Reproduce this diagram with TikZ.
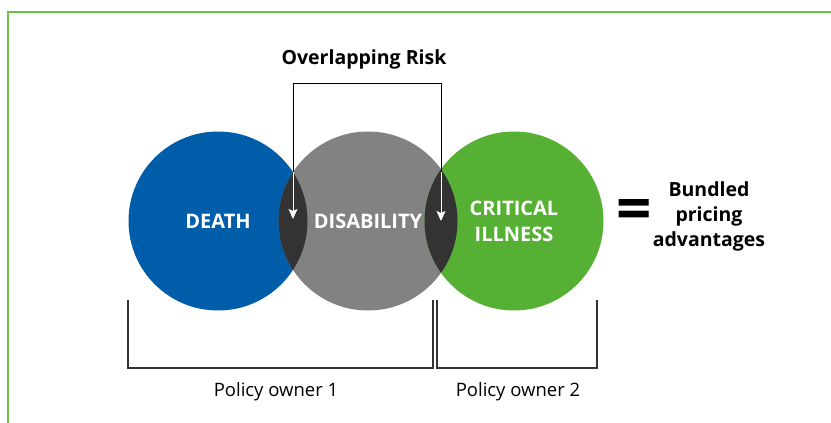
\documentclass[tikz,border=0pt]{standalone}
\usepackage{fontspec}
\setmainfont{Open Sans}
\usepackage{xcolor}
\usepackage{tikz}
\usetikzlibrary{positioning,arrows.meta}

\definecolor{deathblue}{HTML}{005DAA}
\definecolor{disgray}{HTML}{828282}
\definecolor{ciGreen}{HTML}{55B033}
\definecolor{lensdark}{HTML}{333333}
\definecolor{frameGreen}{HTML}{6CC24A}

\begin{document}
\begin{tikzpicture}[x=1pt, y=-1pt, font=\fontsize{18}{22}\selectfont,
	risk/.style={circle, minimum size=179pt, inner sep=0pt, text=white, font=\fontsize{20}{26}\selectfont\bfseries, align=center},
	brace/.style={draw=lensdark, line width=1.3pt},
	owner/.style={font=\fontsize{18.5}{22}\selectfont}]
		\useasboundingbox (0,0) rectangle (831,423);
		\draw[frameGreen, line width=1.5pt] (8,423) -- (8,12) -- (831,12);
		% the three circles
		\node[risk, fill=deathblue] (death) at (218,221) {};
		\node[risk, fill=disgray] (dis) at (368,221) {};
		\node[risk, fill=ciGreen] (ci) at (514,221) {};
		% overlaps
		\begin{scope}
			\clip (218,221) circle (89.5);
			\fill[lensdark] (368,221) circle (89.5);
		\end{scope}
		\begin{scope}
			\clip (368,221) circle (89.5);
			\fill[lensdark] (514,221) circle (89.5);
		\end{scope}
		\node[risk] at (death) {DEATH};
		\node[risk] at (dis) {DISABILITY};
		\node[risk] at (ci) {CRITICAL\\ILLNESS};
		% overlapping risk pointer
		\node[font=\fontsize{19.5}{22}\selectfont\bfseries] (risk) at (364,59) {Overlapping Risk};
		\coordinate (topL) at (293,83);
		\coordinate (topR) at (441,83);
		\coordinate (cutL) at (293,172);
		\coordinate (cutR) at (441,172);
		\coordinate (tipL) at (293,219);
		\coordinate (tipR) at (441,221);
		\draw[black, line width=1pt] (cutL) -- (topL) -- (topR) -- (cutR);
		\draw[white, line width=1pt, -{Stealth[length=10pt, width=9pt, inset=2pt]}] (cutL) -- (tipL);
		\draw[white, line width=1pt, -{Stealth[length=10pt, width=9pt, inset=2pt]}] (cutR) -- (tipR);
		% result
		\node[font=\fontsize{62}{62}\selectfont\bfseries] (eq) at (634,215) {=};
		\node[font=\fontsize{19.5}{25}\selectfont\bfseries, align=center] (bundle) at (709,216) {Bundled\\pricing\\advantages};
		% policy owners
		\draw[brace] (128,300) -- (128,368) -- (433,368) -- (433,300);
		\draw[brace] (437,300) -- (437,368) -- (597,368) -- (597,300);
		\node[owner] (own1) at (276,392) {Policy owner 1};
		\node[owner] (own2) at (518,392) {Policy owner 2};
	\end{tikzpicture}
\end{document}
